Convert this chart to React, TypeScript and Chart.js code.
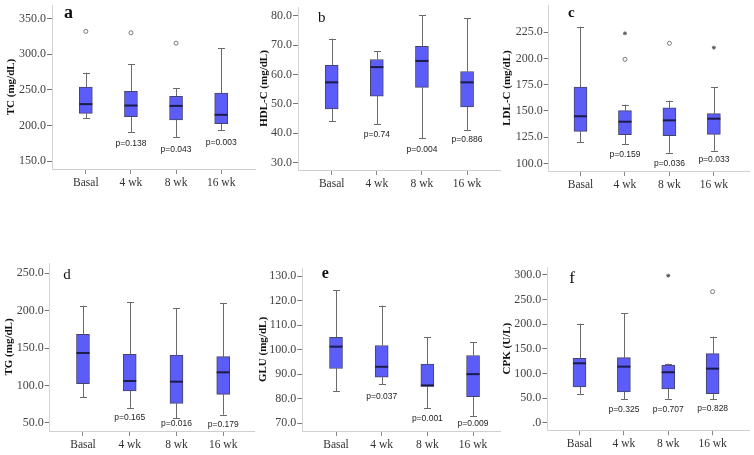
import React, { useEffect, useRef } from 'react';
import { Chart, registerables } from 'chart.js';
Chart.register(...registerables);

const categories = ['Basal', '4 wk', '8 wk', '16 wk'];

// a: TC
const tcMin = [210, 191, 184, 193];
const tcQ1 = [217, 212.5, 208, 202.5];
const tcMed = [230, 228, 227.5, 215];
const tcQ3 = [254, 248, 241, 245.5];
const tcMax = [274, 286, 252, 308];
const tcCircleX = [0, 1, 2];
const tcCircleY = [332, 330, 315.5];
const tcStarX: number[] = [];
const tcStarY: number[] = [];
const tcP = ['', 'p=0.138', 'p=0.043', 'p=0.003'];
const tcPY = [0, 174, 166, 176];
const tcTicks = [150, 200, 250, 300, 350];

// b: HDL-C
const hdlMin = [44, 43, 38.2, 41];
const hdlQ1 = [48.2, 52.6, 55.6, 48.9];
const hdlMed = [57.3, 62.5, 64.6, 57.3];
const hdlQ3 = [63.1, 65.1, 69.6, 61];
const hdlMax = [72.2, 68, 80.2, 79.2];
const hdlCircleX: number[] = [];
const hdlCircleY: number[] = [];
const hdlStarX: number[] = [];
const hdlStarY: number[] = [];
const hdlP = ['', 'p=0.74', 'p=0.004', 'p=0.886'];
const hdlPY = [0, 39.6, 34.5, 37.6];
const hdlTicks = [30, 40, 50, 60, 70, 80];

// c: LDL-C
const ldlMin = [120.3, 118.2, 110.1, 112];
const ldlQ1 = [130.5, 127.3, 126.4, 127.7];
const ldlMed = [144.9, 139.7, 141, 142.6];
const ldlQ3 = [172.8, 150.2, 153, 147.4];
const ldlMax = [230.3, 156, 159.7, 172.5];
const ldlCircleX = [1, 2];
const ldlCircleY = [199.2, 214.5];
const ldlStarX = [1, 3];
const ldlStarY = [224, 210.3];
const ldlP = ['', 'p=0.159', 'p=0.036', 'p=0.033'];
const ldlPY = [0, 108.6, 100, 103.8];
const ldlTicks = [100, 125, 150, 175, 200, 225];

// d: TG
const tgMin = [84.7, 70.4, 56.3, 61];
const tgQ1 = [102.5, 92.8, 76.3, 88.3];
const tgMed = [143.5, 106.1, 105.2, 117.7];
const tgQ3 = [168.5, 141.8, 140.8, 138.6];
const tgMax = [206.7, 211.5, 203.2, 210.3];
const tgCircleX: number[] = [];
const tgCircleY: number[] = [];
const tgStarX: number[] = [];
const tgStarY: number[] = [];
const tgP = ['', 'p=0.165', 'p=0.016', 'p=0.179'];
const tgPY = [0, 57, 48.7, 47.3];
const tgTicks = [50, 100, 150, 200, 250];

// e: GLU
const gluMin = [83, 86, 76, 73];
const gluQ1 = [92.3, 88.8, 85, 80.8];
const gluMed = [101.2, 93, 85.4, 90];
const gluQ3 = [105, 101.7, 94.1, 97.6];
const gluMax = [124.2, 118, 105.1, 103];
const gluCircleX: number[] = [];
const gluCircleY: number[] = [];
const gluStarX: number[] = [];
const gluStarY: number[] = [];
const gluP = ['', 'p=0.037', 'p=0.001', 'p=0.009'];
const gluPY = [0, 81, 71.9, 70];
const gluTicks = [70, 80, 90, 100, 110, 120, 130];

// f: CPK
const cpkMin = [58.3, 47.5, 48.8, 47.5];
const cpkQ1 = [72.5, 62.4, 68.5, 59];
const cpkMed = [120.6, 113.8, 102.4, 109.7];
const cpkQ3 = [130.8, 132, 117.2, 140.2];
const cpkMax = [201, 222, 119.9, 174.7];
const cpkCircleX = [3];
const cpkCircleY = [266.1];
const cpkStarX = [2];
const cpkStarY = [298.6];
const cpkP = ['', 'p=0.325', 'p=0.707', 'p=0.828'];
const cpkPY = [0, 25.8, 25.8, 27.8];
const cpkTicks = [0, 50, 100, 150, 200, 250, 300];

const W = 754;
const H = 455;

type Panel = {
  title: string;
  min: number[]; q1: number[]; med: number[]; q3: number[]; max: number[];
  cx: number[]; cy: number[]; sx: number[]; sy: number[];
  p: string[]; py: number[]; ticks: number[];
  left: number; right: number; top: number; bottom: number;
  yMin: number; yMax: number; xMin: number; xMax: number;
  titleX: number;
  letter: string; letterFont: string; lx: number; ly: number;
};

const panels: Panel[] = [
  { title: 'TC (mg/dL)', min: tcMin, q1: tcQ1, med: tcMed, q3: tcQ3, max: tcMax,
    cx: tcCircleX, cy: tcCircleY, sx: tcStarX, sy: tcStarY, p: tcP, py: tcPY, ticks: tcTicks,
    left: 52, right: 255, top: 0, bottom: 169, yMin: 139, yMax: 369, xMin: -0.75, xMax: 3.75,
    titleX: 11, letter: 'a', letterFont: 'bold 18px "Liberation Serif"', lx: 64, ly: 18.3 },
  { title: 'HDL-C (mg/dL)', min: hdlMin, q1: hdlQ1, med: hdlMed, q3: hdlQ3, max: hdlMax,
    cx: hdlCircleX, cy: hdlCircleY, sx: hdlStarX, sy: hdlStarY, p: hdlP, py: hdlPY, ticks: hdlTicks,
    left: 298, right: 500, top: 7, bottom: 170, yMin: 27.4, yMax: 83, xMin: -0.747, xMax: 3.73,
    titleX: 264, letter: 'b', letterFont: '15px "Liberation Serif"', lx: 318, ly: 22 },
  { title: 'LDL-C (mg/dL)', min: ldlMin, q1: ldlQ1, med: ldlMed, q3: ldlQ3, max: ldlMax,
    cx: ldlCircleX, cy: ldlCircleY, sx: ldlStarX, sy: ldlStarY, p: ldlP, py: ldlPY, ticks: ldlTicks,
    left: 548.7, right: 754, top: 5, bottom: 171, yMin: 92.7, yMax: 251, xMin: -0.715, xMax: 3.79,
    titleX: 507.3, letter: 'c', letterFont: 'bold 15px "Liberation Serif"', lx: 568, ly: 17 },
  { title: 'TG (mg/dL)', min: tgMin, q1: tgQ1, med: tgMed, q3: tgQ3, max: tgMax,
    cx: tgCircleX, cy: tgCircleY, sx: tgStarX, sy: tgStarY, p: tgP, py: tgPY, ticks: tgTicks,
    left: 49.7, right: 255, top: 263, bottom: 431, yMin: 39.3, yMax: 263.8, xMin: -0.712, xMax: 3.68,
    titleX: 9, letter: 'd', letterFont: '15px "Liberation Serif"', lx: 63.3, ly: 279.3 },
  { title: 'GLU (mg/dL)', min: gluMin, q1: gluQ1, med: gluMed, q3: gluQ3, max: gluMax,
    cx: gluCircleX, cy: gluCircleY, sx: gluStarX, sy: gluStarY, p: gluP, py: gluPY, ticks: gluTicks,
    left: 302.3, right: 500, top: 268, bottom: 431, yMin: 66.8, yMax: 133.3, xMin: -0.738, xMax: 3.59,
    titleX: 262.7, letter: 'e', letterFont: 'bold 16px "Liberation Serif"', lx: 321.7, ly: 278.3 },
  { title: 'CPK (U/L)', min: cpkMin, q1: cpkQ1, med: cpkMed, q3: cpkQ3, max: cpkMax,
    cx: cpkCircleX, cy: cpkCircleY, sx: cpkStarX, sy: cpkStarY, p: cpkP, py: cpkPY, ticks: cpkTicks,
    left: 547.3, right: 754, top: 267, bottom: 430.3, yMin: -15.5, yMax: 316.2, xMin: -0.726, xMax: 3.82,
    titleX: 507.3, letter: 'f', letterFont: '17px "Liberation Serif"', lx: 569.3, ly: 283.3 },
];

const BOX_W = 13;
const CAP_W = 7;

function makeChart(canvas: HTMLCanvasElement, p: Panel) {
  const titleSize = 11;
  const titleLH = titleSize * 1.2;
  const yBoxLeft = p.titleX - titleLH / 2;
  const yW = p.left - yBoxLeft;
  const xH = 20;
  const padding = { left: yBoxLeft, top: p.top, right: W - p.right, bottom: H - p.bottom - xH };

  const extras = {
    id: 'boxExtras',
    beforeDatasetsDraw(chart: any) {
      const ctx = chart.ctx;
      const xs = chart.scales.x;
      const ys = chart.scales.y;
      ctx.save();
      ctx.strokeStyle = '#6a6a6a';
      ctx.lineWidth = 1;
      categories.forEach((_, i) => {
        const x = Math.round(xs.getPixelForValue(i)) + 0.5;
        const yMax = ys.getPixelForValue(p.max[i]);
        const yQ3 = ys.getPixelForValue(p.q3[i]);
        const yQ1 = ys.getPixelForValue(p.q1[i]);
        const yMin = ys.getPixelForValue(p.min[i]);
        ctx.beginPath();
        ctx.moveTo(x, yQ3); ctx.lineTo(x, yMax);
        ctx.moveTo(x, yQ1); ctx.lineTo(x, yMin);
        ctx.moveTo(x - CAP_W / 2, Math.round(yMax) + 0.5); ctx.lineTo(x + CAP_W / 2, Math.round(yMax) + 0.5);
        ctx.moveTo(x - CAP_W / 2, Math.round(yMin) + 0.5); ctx.lineTo(x + CAP_W / 2, Math.round(yMin) + 0.5);
        ctx.stroke();
      });
      ctx.restore();
    },
    afterDatasetsDraw(chart: any) {
      const ctx = chart.ctx;
      const xs = chart.scales.x;
      const ys = chart.scales.y;
      ctx.save();
      ctx.strokeStyle = '#1c1c48';
      ctx.lineWidth = 2;
      categories.forEach((_, i) => {
        const x = xs.getPixelForValue(i);
        const y = ys.getPixelForValue(p.med[i]);
        ctx.beginPath();
        ctx.moveTo(x - BOX_W / 2, y); ctx.lineTo(x + BOX_W / 2, y);
        ctx.stroke();
      });
      ctx.fillStyle = '#222';
      ctx.font = '8.5px "Liberation Sans"';
      ctx.textAlign = 'center';
      ctx.textBaseline = 'middle';
      categories.forEach((_, i) => {
        if (!p.p[i]) return;
        ctx.fillText(p.p[i], xs.getPixelForValue(i), ys.getPixelForValue(p.py[i]));
      });
      ctx.fillStyle = '#111';
      ctx.font = p.letterFont;
      ctx.textAlign = 'left';
      ctx.textBaseline = 'alphabetic';
      ctx.fillText(p.letter, p.lx, p.ly);
      ctx.restore();
    },
  };

  return new Chart(canvas, {
    type: 'bar',
    data: {
      datasets: [
        {
          type: 'bar',
          data: categories.map((_, i) => ({ x: i, y: [p.q1[i], p.q3[i]] })) as any,
          backgroundColor: 'rgb(92,92,248)',
          borderColor: '#45456a',
          borderWidth: 1,
          borderSkipped: false,
          barThickness: BOX_W,
        } as any,
        {
          type: 'scatter',
          data: p.cx.map((x, i) => ({ x, y: p.cy[i] })),
          pointStyle: 'circle',
          radius: 2,
          borderColor: '#777',
          backgroundColor: 'rgba(0,0,0,0)',
          borderWidth: 1,
        } as any,
        {
          type: 'scatter',
          data: p.sx.map((x, i) => ({ x, y: p.sy[i] })),
          pointStyle: 'star',
          radius: 2,
          borderColor: '#555',
          backgroundColor: '#555',
          borderWidth: 1,
        } as any,
      ],
    },
    options: {
      responsive: false,
      animation: false,
      devicePixelRatio: 1,
      layout: { padding },
      plugins: { legend: { display: false }, tooltip: { enabled: false } },
      scales: {
        x: {
          type: 'linear',
          min: p.xMin,
          max: p.xMax,
          offset: false,
          afterBuildTicks: (s: any) => { s.ticks = categories.map((_, i) => ({ value: i })); },
          afterFit: (s: any) => { s.height = xH; s.paddingLeft = 0; s.paddingRight = 0; s.paddingTop = 0; s.paddingBottom = 0; },
          ticks: {
            autoSkip: false, maxRotation: 0, padding: 2,
            callback: (v: any) => categories[Math.round(Number(v))],
            font: { family: 'Liberation Serif', size: 11.5 },
            color: '#333',
          },
          grid: { offset: false, drawOnChartArea: false, drawTicks: true, tickLength: 5, tickColor: '#888', color: '#888' },
          border: { display: true, color: '#cfcfcf', width: 1 },
        },
        y: {
          type: 'linear',
          min: p.yMin,
          max: p.yMax,
          afterBuildTicks: (s: any) => { s.ticks = p.ticks.map((v) => ({ value: v })); },
          afterFit: (s: any) => { s.width = yW; s.paddingTop = 0; s.paddingBottom = 0; s.paddingLeft = 0; s.paddingRight = 0; },
          ticks: {
            padding: 1,
            callback: (v: any) => (Number(v) === 0 ? '.0' : Number(v).toFixed(1)),
            font: { family: 'Liberation Serif', size: 12 },
            color: '#444',
          },
          grid: { offset: false, drawOnChartArea: false, drawTicks: true, tickLength: 5, tickColor: '#777', color: '#777' },
          border: { display: true, color: '#d4d4d4', width: 1 },
          title: {
            display: true,
            text: p.title,
            padding: 0,
            color: '#111',
            font: { family: 'Liberation Serif', size: titleSize, weight: 'bold' },
          },
        },
      },
    } as any,
    plugins: [extras],
  });
}

function PanelCanvas({ panel }: { panel: Panel }) {
  const ref = useRef<HTMLCanvasElement | null>(null);
  useEffect(() => {
    if (!ref.current) return;
    const chart = makeChart(ref.current, panel);
    return () => chart.destroy();
  }, [panel]);
  return (
    <canvas
      ref={ref}
      width={W}
      height={H}
      style={{ position: 'absolute', left: 0, top: 0, width: W, height: H }}
    />
  );
}

export default function App() {
  return (
    <div style={{ position: 'fixed', left: 0, top: 0, width: W, height: H, background: '#fff', overflow: 'hidden' }}>
      {panels.map((p, i) => (
        <PanelCanvas key={i} panel={p} />
      ))}
    </div>
  );
}
